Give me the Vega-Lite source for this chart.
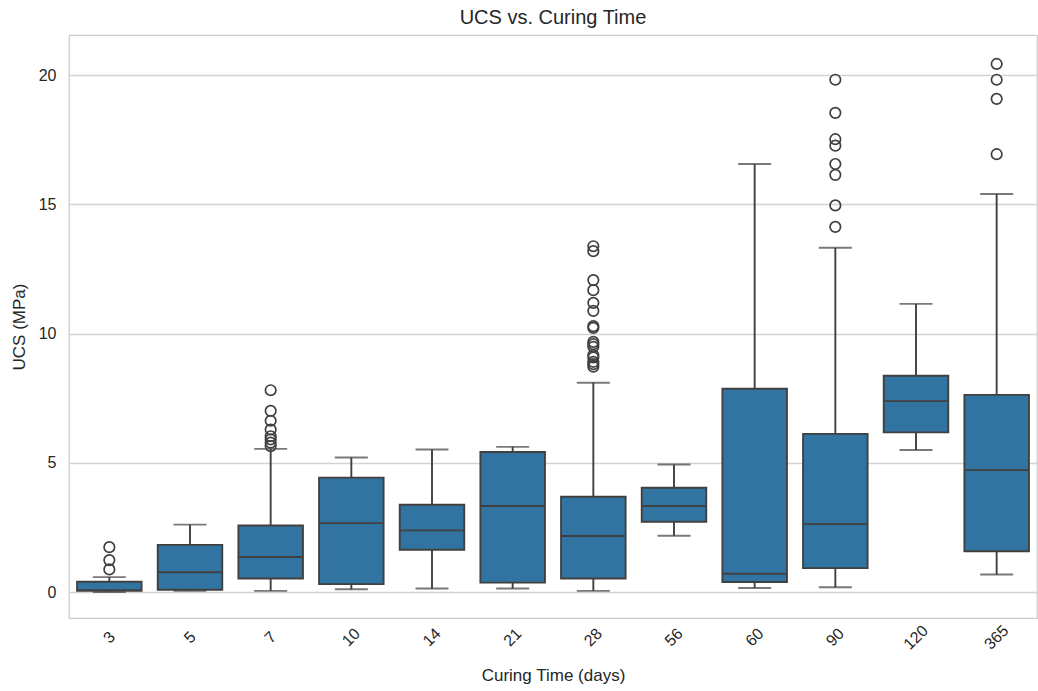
{
  "$schema": "https://vega.github.io/schema/vega-lite/v6.json",
  "width": 968,
  "height": 583,
  "autosize": "none",
  "padding": {"left": 69, "top": 35, "right": 1, "bottom": 73},
  "title": {"text": "UCS vs. Curing Time", "fontSize": 20, "font": "Liberation Sans", "fontWeight": "normal", "color": "#262626", "anchor": "middle", "offset": 7},
  "config": {
    "font": "Liberation Sans",
    "view": {"stroke": "#cccccc", "strokeWidth": 1.25},
    "axis": {"labelColor": "#262626", "titleColor": "#262626", "labelFont": "Liberation Sans", "titleFont": "Liberation Sans", "titleFontWeight": "normal", "domain": false, "ticks": false}
  },
  "datasets": {
    "boxes": [
      {"days": "3", "lo": 0.0, "q1": 0.05, "med": 0.08, "q3": 0.40, "hi": 0.58},
      {"days": "5", "lo": 0.05, "q1": 0.09, "med": 0.77, "q3": 1.83, "hi": 2.61},
      {"days": "7", "lo": 0.05, "q1": 0.53, "med": 1.36, "q3": 2.58, "hi": 5.54},
      {"days": "10", "lo": 0.11, "q1": 0.31, "med": 2.67, "q3": 4.43, "hi": 5.21},
      {"days": "14", "lo": 0.14, "q1": 1.64, "med": 2.39, "q3": 3.38, "hi": 5.52},
      {"days": "21", "lo": 0.14, "q1": 0.37, "med": 3.33, "q3": 5.42, "hi": 5.62},
      {"days": "28", "lo": 0.05, "q1": 0.53, "med": 2.17, "q3": 3.69, "hi": 8.10},
      {"days": "56", "lo": 2.18, "q1": 2.72, "med": 3.33, "q3": 4.04, "hi": 4.94},
      {"days": "60", "lo": 0.16, "q1": 0.39, "med": 0.71, "q3": 7.87, "hi": 16.56},
      {"days": "90", "lo": 0.19, "q1": 0.93, "med": 2.63, "q3": 6.12, "hi": 13.32},
      {"days": "120", "lo": 5.50, "q1": 6.18, "med": 7.39, "q3": 8.37, "hi": 11.15},
      {"days": "365", "lo": 0.68, "q1": 1.58, "med": 4.72, "q3": 7.63, "hi": 15.40}
    ],
    "outliers": [
      {"days": "3", "ucs": 1.74},
      {"days": "3", "ucs": 1.24},
      {"days": "3", "ucs": 0.88},
      {"days": "7", "ucs": 7.81},
      {"days": "7", "ucs": 7.01},
      {"days": "7", "ucs": 6.63},
      {"days": "7", "ucs": 6.29},
      {"days": "7", "ucs": 6.03},
      {"days": "7", "ucs": 5.91},
      {"days": "7", "ucs": 5.78},
      {"days": "7", "ucs": 5.65},
      {"days": "28", "ucs": 13.38},
      {"days": "28", "ucs": 13.19},
      {"days": "28", "ucs": 12.07},
      {"days": "28", "ucs": 11.68},
      {"days": "28", "ucs": 11.19},
      {"days": "28", "ucs": 10.88},
      {"days": "28", "ucs": 10.29},
      {"days": "28", "ucs": 10.22},
      {"days": "28", "ucs": 9.68},
      {"days": "28", "ucs": 9.59},
      {"days": "28", "ucs": 9.49},
      {"days": "28", "ucs": 9.17},
      {"days": "28", "ucs": 9.08},
      {"days": "28", "ucs": 8.91},
      {"days": "28", "ucs": 8.82},
      {"days": "28", "ucs": 8.72},
      {"days": "90", "ucs": 19.82},
      {"days": "90", "ucs": 18.54},
      {"days": "90", "ucs": 17.52},
      {"days": "90", "ucs": 17.27},
      {"days": "90", "ucs": 16.56},
      {"days": "90", "ucs": 16.14},
      {"days": "90", "ucs": 14.96},
      {"days": "90", "ucs": 14.13},
      {"days": "365", "ucs": 20.43},
      {"days": "365", "ucs": 19.82},
      {"days": "365", "ucs": 19.08},
      {"days": "365", "ucs": 16.94}
    ]
  },
  "encoding": {
    "x": {
      "field": "days", "type": "ordinal",
      "sort": ["3", "5", "7", "10", "14", "21", "28", "56", "60", "90", "120", "365"],
      "scale": {"paddingInner": 0, "paddingOuter": 0},
      "axis": {"title": "Curing Time (days)", "labelAngle": -45, "labelAlign": "center", "labelBaseline": "middle", "labelPadding": 19, "labelFontSize": 16, "titleFontSize": 17, "titlePadding": 15, "grid": false}
    }
  },
  "layer": [
    {
      "data": {"name": "boxes"},
      "mark": {"type": "rule", "color": "#404040", "strokeWidth": 1.9},
      "encoding": {
        "y": {"field": "lo", "type": "quantitative", "scale": {"domain": [-1.0, 21.55], "nice": false, "zero": false},
          "axis": {"title": "UCS (MPa)", "values": [0, 5, 10, 15, 20], "labelFontSize": 16, "titleFontSize": 17, "labelPadding": 13, "titlePadding": 10, "grid": true, "gridColor": "#d3d3d3", "gridWidth": 1.5}},
        "y2": {"field": "hi"}
      }
    },
    {
      "data": {"name": "boxes"},
      "mark": {"type": "tick", "color": "#404040", "size": 33, "thickness": 1.9},
      "encoding": {"y": {"field": "lo", "type": "quantitative"}}
    },
    {
      "data": {"name": "boxes"},
      "mark": {"type": "tick", "color": "#404040", "size": 33, "thickness": 1.9},
      "encoding": {"y": {"field": "hi", "type": "quantitative"}}
    },
    {
      "data": {"name": "boxes"},
      "mark": {"type": "bar", "width": {"band": 0.8}, "fill": "#3274a1", "stroke": "#404040", "strokeWidth": 1.9},
      "encoding": {
        "y": {"field": "q1", "type": "quantitative"},
        "y2": {"field": "q3"}
      }
    },
    {
      "data": {"name": "boxes"},
      "mark": {"type": "tick", "color": "#404040", "size": 64.5, "thickness": 1.9, "opacity": 1},
      "encoding": {"y": {"field": "med", "type": "quantitative"}}
    },
    {
      "data": {"name": "outliers"},
      "mark": {"type": "point", "shape": "circle", "filled": false, "stroke": "#404040", "strokeWidth": 1.7, "size": 110, "opacity": 1},
      "encoding": {"y": {"field": "ucs", "type": "quantitative"}}
    }
  ]
}
